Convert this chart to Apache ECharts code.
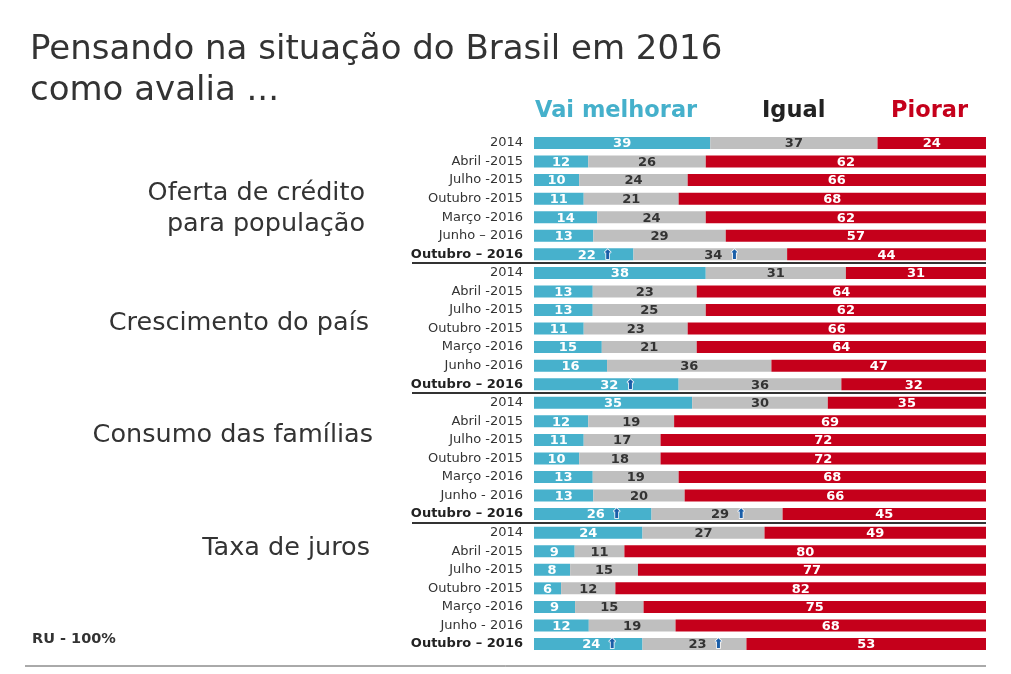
<!DOCTYPE html>
<html><head><meta charset="utf-8">
<script src="https://cdn.jsdelivr.net/npm/echarts@6/dist/echarts.min.js"></script>
<style>html,body{margin:0;padding:0;background:#fff}#c{width:1011px;height:674px}</style>
</head><body><div id="c"></div>
<script>
// ---- data ----
const groupNames = ['Oferta de crédito\npara população', 'Crescimento do país', 'Consumo das famílias', 'Taxa de juros'];
const rowLabels1 = ['2014', 'Abril -2015', 'Julho -2015', 'Outubro -2015', 'Março -2016', 'Junho – 2016', 'Outubro – 2016'];
const rowLabels2 = ['2014', 'Abril -2015', 'Julho -2015', 'Outubro -2015', 'Março -2016', 'Junho -2016', 'Outubro – 2016'];
const rowLabels3 = ['2014', 'Abril -2015', 'Julho -2015', 'Outubro -2015', 'Março -2016', 'Junho - 2016', 'Outubro – 2016'];
const rowLabels4 = ['2014', 'Abril -2015', 'Julho -2015', 'Outubro -2015', 'Março -2016', 'Junho - 2016', 'Outubro – 2016'];

const melhorar1 = [39, 12, 10, 11, 14, 13, 22];
const igual1    = [37, 26, 24, 21, 24, 29, 34];
const piorar1   = [24, 62, 66, 68, 62, 57, 44];

const melhorar2 = [38, 13, 13, 11, 15, 16, 32];
const igual2    = [31, 23, 25, 23, 21, 36, 36];
const piorar2   = [31, 64, 62, 66, 64, 47, 32];

const melhorar3 = [35, 12, 11, 10, 13, 13, 26];
const igual3    = [30, 19, 17, 18, 19, 20, 29];
const piorar3   = [35, 69, 72, 72, 68, 66, 45];

const melhorar4 = [24, 9, 8, 6, 9, 12, 24];
const igual4    = [27, 11, 15, 12, 15, 19, 23];
const piorar4   = [49, 80, 77, 82, 75, 68, 53];

// up arrows on the last row of each group (melhorar, igual)
const arrowMelhorar = [true, true, true, true];
const arrowIgual    = [true, false, true, true];

const seriesNames = ['Vai melhorar', 'Igual', 'Piorar'];
const colors = ['#47b1cc', '#bfbfbf', '#c5001b'];

// ---- build rows ----
const labels = [].concat(rowLabels1, rowLabels2, rowLabels3, rowLabels4);
const mel = [].concat(melhorar1, melhorar2, melhorar3, melhorar4);
const igu = [].concat(igual1, igual2, igual3, igual4);
const pio = [].concat(piorar1, piorar2, piorar3, piorar4);
const arrows = [[], [], []];
for (let g = 0; g < 4; g++) {
  for (let r = 0; r < 7; r++) {
    const last = r === 6;
    arrows[0].push(last && arrowMelhorar[g]);
    arrows[1].push(last && arrowIgual[g]);
    arrows[2].push(false);
  }
}
const raw = [mel, igu, pio];
const cats = labels.map((l, i) => String(i));

const FONT = '"DejaVu Sans", Verdana, sans-serif';

const series = raw.map((vals, s) => ({
  name: seriesNames[s],
  type: 'bar',
  stack: 'all',
  barWidth: 12,
  itemStyle: { color: colors[s] },
  data: vals.map((v, i) => {
    const sum = mel[i] + igu[i] + pio[i];
    return { value: v * 100 / sum, raw: v, arrow: arrows[s][i] };
  }),
  label: {
    show: true,
    position: 'inside',
    offset: [0, 1],
    formatter: p => {
      const d = p.data;
      return d.arrow ? '{pad|}{n|' + d.raw + '}{g|}{a|⬆}' : '{n|' + d.raw + '}';
    },
    rich: {
      n: { fontFamily: FONT, fontWeight: 'bold', fontSize: 13, color: s === 1 ? '#333' : '#fff' },
      pad: { width: 24 },
      g: { width: 6 },
      a: { fontFamily: FONT, fontSize: 13, color: '#1a5ea8', textBorderColor: '#fff', textBorderWidth: 1.5, width: 12, align: 'center' }
    }
  }
}));

const chart = echarts.init(document.getElementById('c'));
const graphic = [];
// legend headers
[['Vai melhorar', 535, '#45b0cb'], ['Igual', 762, '#222'], ['Piorar', 891, '#c5001b']].forEach(h => {
  graphic.push({ type: 'text', x: h[1], y: 111, style: { text: h[0], font: 'bold 22.5px ' + FONT, fill: h[2], verticalAlign: 'middle' } });
});
// group labels
const gPos = [[365, 209], [369, 323], [373, 435], [370, 548]];
groupNames.forEach((n, i) => {
  graphic.push({ type: 'text', x: gPos[i][0], y: gPos[i][1], style: { text: n, font: '25.5px ' + FONT, fill: '#333', align: 'right', verticalAlign: 'middle', lineHeight: 31 } });
});
graphic.push({ type: 'text', x: 32, y: 639, style: { text: 'RU - 100%', font: 'bold 14.5px ' + FONT, fill: '#333', verticalAlign: 'middle' } });
// separators
[263, 393, 523].forEach(y => {
  graphic.push({ type: 'line', shape: { x1: 412, y1: y, x2: 986, y2: y }, style: { stroke: '#333', lineWidth: 2 } });
});
graphic.push({ type: 'line', shape: { x1: 25, y1: 666, x2: 986, y2: 666 }, style: { stroke: '#555', lineWidth: 1 } });

chart.setOption({
  animation: false,
  backgroundColor: '#fff',
  title: {
    text: 'Pensando na situação do Brasil em 2016\ncomo avalia ...',
    left: 25, top: 25,
    textStyle: { fontFamily: FONT, fontWeight: 'normal', fontSize: 34, color: '#333', lineHeight: 41 }
  },
  grid: { left: 534, right: 25, top: 133.7, bottom: 20.7, containLabel: false },
  xAxis: { type: 'value', min: 0, max: 100, show: false },
  yAxis: {
    type: 'category', inverse: true, data: cats,
    axisLine: { show: false }, axisTick: { show: false }, splitLine: { show: false },
    axisLabel: {
      margin: 11, color: '#333',
      formatter: (v, i) => (i % 7 === 6 ? '{b|' + labels[i] + '}' : '{r|' + labels[i] + '}'),
      rich: {
        r: { fontFamily: FONT, fontSize: 13, color: '#333' },
        b: { fontFamily: FONT, fontSize: 13, fontWeight: 'bold', color: '#222' }
      }
    }
  },
  series: series,
  graphic: graphic
});
</script></body></html>
